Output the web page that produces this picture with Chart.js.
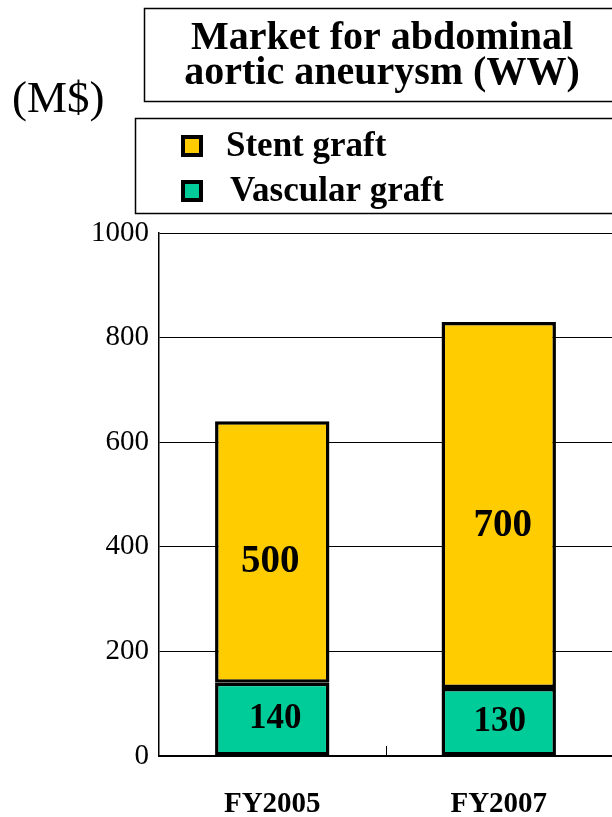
<!DOCTYPE html>
<html><head><meta charset="utf-8">
<script src="https://cdn.jsdelivr.net/npm/chart.js@4"></script>
<style>html,body{margin:0;padding:0;background:#fff;overflow:hidden}#wrap{width:612px;height:817px;position:relative}</style>
</head><body><div id="wrap"><canvas id="c" width="612" height="817"></canvas></div>
<script>
const categories = ["FY2005", "FY2007"];
const seriesNames = ["Stent graft", "Vascular graft"];
const stentGraft = [500, 700];
const vascularGraft = [140, 130];
const yTicks = [0, 200, 400, 600, 800, 1000];
const titleLines = ["Market for abdominal", "aortic aneurysm (WW)"];
const unitLabel = "(M$)";

const SERIF = '"Liberation Serif", "Times New Roman", serif';
const colors = {stent: "#FFCC00", vascular: "#00CC99"};

const decor = {
  id: "decor",
  afterDraw(chart) {
    const ctx = chart.ctx;
    ctx.save();
    // title box
    ctx.strokeStyle = "#000"; ctx.lineWidth = 1.5;
    ctx.strokeRect(144.5, 8.5, 500, 93);
    ctx.fillStyle = "#000";
    ctx.font = "bold 40px " + SERIF;
    ctx.textAlign = "center"; ctx.textBaseline = "middle";
    ctx.fillText(titleLines[0], 382, 39);
    ctx.fillText(titleLines[1], 382, 74);
    // unit
    ctx.font = "45px " + SERIF;
    ctx.textAlign = "left";
    ctx.fillText(unitLabel, 12, 100);
    // legend box
    ctx.strokeRect(135.5, 118.5, 500, 95);
    const items = [
      {name: seriesNames[0], color: colors.stent, y: 146, tx: 226},
      {name: seriesNames[1], color: colors.vascular, y: 191, tx: 230}
    ];
    ctx.font = "bold 35px " + SERIF;
    items.forEach(it => {
      ctx.fillStyle = "#000";
      ctx.fillRect(181, it.y - 11, 22, 22);
      ctx.fillStyle = it.color;
      ctx.fillRect(185, it.y - 7, 14, 14);
      ctx.fillStyle = "#000";
      ctx.textAlign = "left";
      ctx.fillText(it.name, it.tx, it.y + 1);
    });
    // category separator tick
    const xs = chart.scales.x;
    const ys = chart.scales.y;
    const mid = (xs.getPixelForValue(0) + xs.getPixelForValue(1)) / 2;
    ctx.lineWidth = 1;
    ctx.beginPath();
    ctx.moveTo(Math.round(mid) + 0.5, ys.bottom - 10);
    ctx.lineTo(Math.round(mid) + 0.5, ys.bottom);
    ctx.stroke();
    // value labels
    ctx.textAlign = "center"; ctx.textBaseline = "middle";
    chart.data.datasets.forEach((ds, di) => {
      const meta = chart.getDatasetMeta(di);
      const isStent = ds.label === seriesNames[0];
      meta.data.forEach((bar, i) => {
        const v = ds.data[i];
        const cy = (bar.y + bar.base) / 2;
        if (isStent) {
          ctx.font = "bold 39px " + SERIF;
          ctx.fillText(String(v), bar.x + (i === 0 ? -2 : 4), cy + (i === 0 ? 10 : 21));
        } else {
          ctx.font = "bold 35px " + SERIF;
          ctx.fillText(String(v), bar.x + (i === 0 ? 3 : 1), cy);
        }
      });
    });
    ctx.restore();
  }
};

new Chart(document.getElementById("c"), {
  type: "bar",
  data: {
    labels: categories,
    datasets: [
      {label: seriesNames[1], data: vascularGraft, backgroundColor: colors.vascular, borderColor: "#000", borderWidth: 3.5, borderSkipped: false},
      {label: seriesNames[0], data: stentGraft, backgroundColor: colors.stent, borderColor: "#000", borderWidth: 3.5, borderSkipped: false}
    ]
  },
  options: {
    responsive: false,
    animation: false,
    devicePixelRatio: 1,
    layout: {padding: {top: 233, left: 0, right: -3, bottom: 0}},
    plugins: {legend: {display: false}, title: {display: false}, tooltip: {enabled: false}},
    datasets: {bar: {categoryPercentage: 1, barPercentage: 0.505}},
    scales: {
      x: {
        stacked: true,
        grid: {display: false, drawTicks: false},
        border: {display: true, color: "#000", width: 2},
        ticks: {color: "#000", font: {family: SERIF, size: 29, weight: "bold"}, padding: 31},
        afterFit(s) { s.height = 61; }
      },
      y: {
        stacked: true,
        min: 0, max: 1000,
        afterBuildTicks(s) { s.ticks = yTicks.map(v => ({value: v})); },
        grid: {color: "#000", lineWidth: 1, drawTicks: false},
        border: {display: true, color: "#000", width: 1.5},
        ticks: {color: "#000", font: {family: SERIF, size: 29}, padding: 10, callback: v => String(v)},
        afterFit(s) { s.width = 159; }
      }
    }
  },
  plugins: [decor]
});
</script>
</body></html>
